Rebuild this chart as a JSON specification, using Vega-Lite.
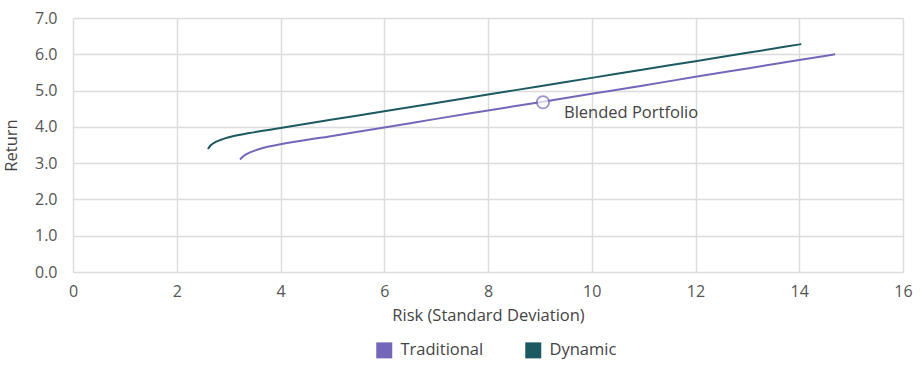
{
  "$schema": "https://vega.github.io/schema/vega-lite/v6.json",
  "autosize": "none",
  "padding": {"left": 73, "top": 18, "right": 17, "bottom": 96},
  "width": 830,
  "height": 254,
  "config": {
    "font": "Open Sans",
    "view": {"stroke": null},
    "axis": {"labelFontSize": 16, "titleFontSize": 16.5, "titleFontWeight": "normal", "labelColor": "#555", "titleColor": "#444", "gridColor": "#dcdcdf", "gridWidth": 1.5, "domain": false, "ticks": false, "labelFlush": false}
  },
  "datasets": {
    "lines": [
      {"series": "Dynamic", "risk": 2.6, "ret": 3.39},
      {"series": "Dynamic", "risk": 2.66, "ret": 3.5},
      {"series": "Dynamic", "risk": 2.76, "ret": 3.59},
      {"series": "Dynamic", "risk": 2.9, "ret": 3.67},
      {"series": "Dynamic", "risk": 3.1, "ret": 3.75},
      {"series": "Dynamic", "risk": 3.4, "ret": 3.83},
      {"series": "Dynamic", "risk": 3.7, "ret": 3.9},
      {"series": "Dynamic", "risk": 4, "ret": 3.97},
      {"series": "Dynamic", "risk": 5, "ret": 4.2},
      {"series": "Dynamic", "risk": 6, "ret": 4.43},
      {"series": "Dynamic", "risk": 7, "ret": 4.66},
      {"series": "Dynamic", "risk": 8, "ret": 4.89},
      {"series": "Dynamic", "risk": 9, "ret": 5.12},
      {"series": "Dynamic", "risk": 10, "ret": 5.35},
      {"series": "Dynamic", "risk": 11, "ret": 5.58},
      {"series": "Dynamic", "risk": 12, "ret": 5.81},
      {"series": "Dynamic", "risk": 13, "ret": 6.04},
      {"series": "Dynamic", "risk": 14.04, "ret": 6.28},
      {"series": "Traditional", "risk": 3.22, "ret": 3.1},
      {"series": "Traditional", "risk": 3.3, "ret": 3.21},
      {"series": "Traditional", "risk": 3.4, "ret": 3.29},
      {"series": "Traditional", "risk": 3.55, "ret": 3.37},
      {"series": "Traditional", "risk": 3.75, "ret": 3.45},
      {"series": "Traditional", "risk": 4, "ret": 3.52},
      {"series": "Traditional", "risk": 5, "ret": 3.75},
      {"series": "Traditional", "risk": 6, "ret": 3.98},
      {"series": "Traditional", "risk": 7, "ret": 4.22},
      {"series": "Traditional", "risk": 8, "ret": 4.45},
      {"series": "Traditional", "risk": 9, "ret": 4.68},
      {"series": "Traditional", "risk": 10, "ret": 4.91},
      {"series": "Traditional", "risk": 11, "ret": 5.14},
      {"series": "Traditional", "risk": 12, "ret": 5.38},
      {"series": "Traditional", "risk": 13, "ret": 5.61},
      {"series": "Traditional", "risk": 14, "ret": 5.84},
      {"series": "Traditional", "risk": 14.69, "ret": 6.0}
    ],
    "blend": [{"name": "Blended Portfolio", "risk": 9.06, "ret": 4.68}]
  },
  "encoding": {
    "x": {"field": "risk", "type": "quantitative", "scale": {"domain": [0, 16], "nice": false}, "axis": {"tickCount": 8, "labelOverlap": false, "title": "Risk (Standard Deviation)", "labelPadding": 11, "titlePadding": 8}},
    "y": {"field": "ret", "type": "quantitative", "scale": {"domain": [0, 7], "nice": false}, "axis": {"tickCount": 7, "labelOverlap": false, "format": ".1f", "title": "Return", "labelPadding": 16, "titlePadding": 15}}
  },
  "layer": [
    {
      "data": {"name": "lines"},
      "mark": {"type": "line", "strokeWidth": 2, "interpolate": "monotone"},
      "encoding": {
        "color": {"field": "series", "type": "nominal", "scale": {"domain": ["Traditional", "Dynamic"], "range": ["#7467b9", "#1c5a61"]}, "legend": {"orient": "none", "legendX": 303, "legendY": 324, "direction": "horizontal", "title": null, "symbolType": "square", "symbolSize": 256, "symbolStrokeWidth": 0, "labelFontSize": 16.5, "labelOffset": 8, "labelColor": "#444", "columnPadding": 41, "encode": {"symbols": {"update": {"fill": {"scale": "color", "field": "value"}, "strokeWidth": {"value": 0}}}}}}
      }
    },
    {
      "data": {"name": "blend"},
      "mark": {"type": "point", "shape": "circle", "size": 150, "filled": true, "fill": "white", "stroke": "#7467b9", "strokeWidth": 1.8}
    },
    {
      "data": {"name": "blend"},
      "mark": {"type": "text", "align": "left", "dx": 21, "dy": 11, "fontSize": 16.5, "color": "#444"},
      "encoding": {"text": {"field": "name"}}
    }
  ]
}
